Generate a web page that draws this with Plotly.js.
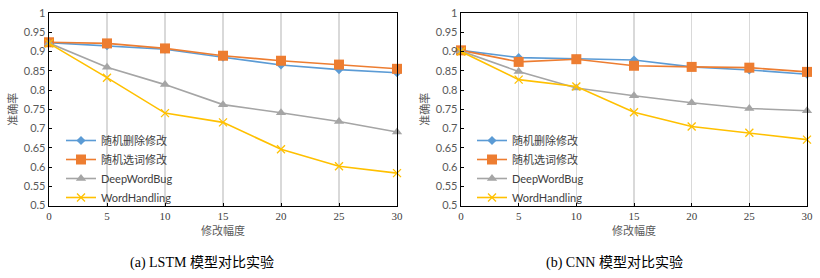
<!DOCTYPE html>
<html>
<head>
<meta charset="utf-8">
<script src="https://cdn.plot.ly/plotly-3.0.1.min.js"></script>
<style>html,body{margin:0;padding:0;background:#fff;}#chart{width:820px;height:278px;}</style>
</head>
<body>
<div id="chart"></div>
<script>
const xValues = [0, 5, 10, 15, 20, 25, 30];
const seriesNames = ['随机删除修改', '随机选词修改', 'DeepWordBug', 'WordHandling'];

// (a) LSTM
const lstmDelete = [0.923, 0.915, 0.906, 0.885, 0.865, 0.853, 0.845];
const lstmSelect = [0.924, 0.921, 0.908, 0.889, 0.876, 0.866, 0.855];
const lstmDeepWordBug = [0.922, 0.859, 0.814, 0.762, 0.741, 0.718, 0.691];
const lstmWordHandling = [0.921, 0.832, 0.740, 0.716, 0.646, 0.602, 0.584];

// (b) CNN
const cnnDelete = [0.903, 0.884, 0.881, 0.878, 0.860, 0.852, 0.841];
const cnnSelect = [0.903, 0.873, 0.880, 0.863, 0.860, 0.858, 0.847];
const cnnDeepWordBug = [0.901, 0.848, 0.805, 0.785, 0.767, 0.752, 0.746];
const cnnWordHandling = [0.900, 0.827, 0.809, 0.742, 0.705, 0.689, 0.671];

const yTickVals = [0.5, 0.55, 0.6, 0.65, 0.7, 0.75, 0.8, 0.85, 0.9, 0.95, 1];
const yTickText = ['0.5', '0.55', '0.6', '0.65', '0.7', '0.75', '0.8', '0.85', '0.9', '0.95', '1'];
const xTickVals = [0, 5, 10, 15, 20, 25, 30];
const xAxisTitle = '修改幅度';
const yAxisTitle = '准确率';
const captions = ['(a) LSTM 模型对比实验', '(b) CNN 模型对比实验'];

const colors = ['#5B9BD5', '#ED7D31', '#A5A5A5', '#FFC000'];
const markers = [
  {symbol: 'diamond', size: 7},
  {symbol: 'square', size: 10},
  {symbol: 'triangle-up', size: 9},
  {symbol: 'x-thin-open', size: 8}
];

function mk(y, i, xa, ya, leg) {
  const m = {symbol: markers[i].symbol, size: markers[i].size, color: colors[i]};
  if (markers[i].symbol === 'x-thin-open') m.line = {color: colors[i], width: 1.3};
  else m.line = {width: 0};
  return {
    x: xValues, y: y, type: 'scatter', mode: 'lines+markers',
    name: seriesNames[i], xaxis: xa, yaxis: ya, legend: leg,
    line: {color: colors[i], width: 1.6}, marker: m, cliponaxis: false
  };
}

const data = [
  mk(lstmDelete, 0, 'x', 'y', 'legend'),
  mk(lstmSelect, 1, 'x', 'y', 'legend'),
  mk(lstmDeepWordBug, 2, 'x', 'y', 'legend'),
  mk(lstmWordHandling, 3, 'x', 'y', 'legend'),
  mk(cnnDelete, 0, 'x2', 'y2', 'legend2'),
  mk(cnnSelect, 1, 'x2', 'y2', 'legend2'),
  mk(cnnDeepWordBug, 2, 'x2', 'y2', 'legend2'),
  mk(cnnWordHandling, 3, 'x2', 'y2', 'legend2')
];

const tickFontY = {family: 'Lato, "Liberation Sans", sans-serif', size: 11, color: '#595959'};
const tickFontX = {family: '"Liberation Serif", serif', size: 11, color: '#404040'};
const titleFont = {family: '"Noto Sans CJK SC", sans-serif', size: 11, color: '#595959'};

function xAxis(domain, anchor) {
  return {
    domain: domain, anchor: anchor, range: [0, 30], tickvals: xTickVals,
    showgrid: true, gridcolor: '#D9D9D9', gridwidth: 1.5,
    showline: true, linecolor: '#000', linewidth: 1.3, mirror: true,
    ticks: 'inside', ticklen: 3, tickcolor: '#000', zeroline: false,
    tickfont: tickFontX, fixedrange: true,
    title: {text: xAxisTitle, font: titleFont, standoff: 6}
  };
}
function yAxis(domain, anchor) {
  return {
    domain: domain, anchor: anchor, range: [0.5, 1], tickvals: yTickVals, ticktext: yTickText,
    showgrid: false, showline: true, linecolor: '#000', linewidth: 1.3, mirror: true,
    ticks: 'inside', ticklen: 3, tickcolor: '#000', zeroline: false,
    tickfont: tickFontY, fixedrange: true,
    title: {text: yAxisTitle, font: titleFont, standoff: 4}
  };
}

const yDom = [1 - 205.5 / 278, 1 - 13 / 278];
const legendFont = {family: 'Lato, "Noto Sans CJK SC", sans-serif', size: 11, color: '#404040'};

const layout = {
  width: 820, height: 278,
  margin: {l: 0, r: 0, t: 0, b: 0},
  paper_bgcolor: '#fff', plot_bgcolor: '#fff',
  showlegend: true,
  xaxis: xAxis([49 / 820, 397 / 820], 'y'),
  yaxis: yAxis(yDom, 'x'),
  xaxis2: xAxis([461 / 820, 807 / 820], 'y2'),
  yaxis2: yAxis(yDom, 'x2'),
  legend: {x: 61 / 820, y: 1 - 126 / 278, xanchor: 'left', yanchor: 'top',
    bgcolor: 'rgba(0,0,0,0)', font: legendFont, tracegroupgap: 0, itemwidth: 30},
  legend2: {x: 472 / 820, y: 1 - 126 / 278, xanchor: 'left', yanchor: 'top',
    bgcolor: 'rgba(0,0,0,0)', font: legendFont, tracegroupgap: 0, itemwidth: 30},
  annotations: [
    {text: captions[0], xref: 'paper', yref: 'paper', x: 202 / 820, y: 1 - 263 / 278,
      xanchor: 'center', yanchor: 'middle', showarrow: false,
      font: {family: '"Liberation Serif", "Noto Sans CJK SC", serif', size: 14, color: '#000'}},
    {text: captions[1], xref: 'paper', yref: 'paper', x: 614 / 820, y: 1 - 263 / 278,
      xanchor: 'center', yanchor: 'middle', showarrow: false,
      font: {family: '"Liberation Serif", "Noto Sans CJK SC", serif', size: 14, color: '#000'}}
  ]
};

Plotly.newPlot('chart', data, layout, {displayModeBar: false, staticPlot: true});
</script>
</body>
</html>
